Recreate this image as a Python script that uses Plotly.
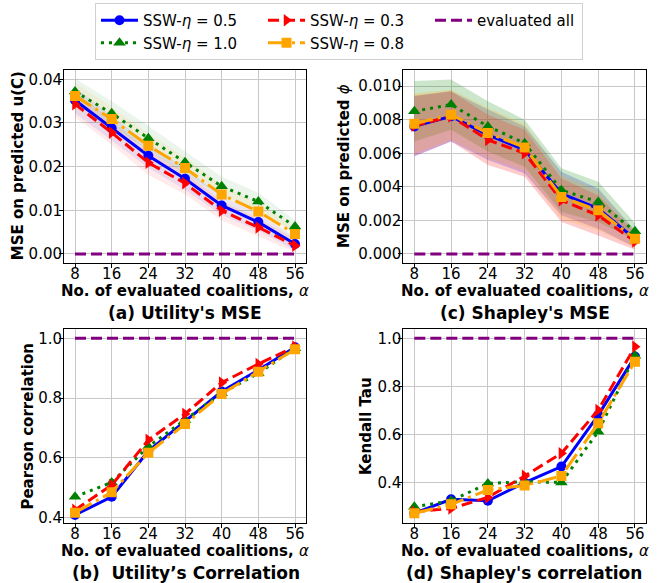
import plotly.graph_objects as go

# ---------------- data ----------------
alphas = [8, 16, 24, 32, 40, 48, 56]

# (a) MSE on predicted u(C)
mse_u_05 = [0.0352, 0.0288, 0.0225, 0.0172, 0.0111, 0.0073, 0.0023]
mse_u_10 = [0.0372, 0.0322, 0.0265, 0.0210, 0.0155, 0.0120, 0.0063]
mse_u_03 = [0.0343, 0.0278, 0.0209, 0.0162, 0.0099, 0.0061, 0.0019]
mse_u_08 = [0.0362, 0.0309, 0.0248, 0.0197, 0.0136, 0.0097, 0.0046]
std_u = [0.0030, 0.0028, 0.0028, 0.0025, 0.0022, 0.0020, 0.0015]

# (c) MSE on predicted phi
mse_phi_05 = [0.0076, 0.0082, 0.0071, 0.0062, 0.0036, 0.0027, 0.0009]
mse_phi_10 = [0.0085, 0.0089, 0.0076, 0.0066, 0.0038, 0.0031, 0.00135]
mse_phi_03 = [0.00764, 0.0082, 0.0068, 0.0060, 0.0032, 0.0023, 0.00075]
mse_phi_08 = [0.00776, 0.0083, 0.0072, 0.00635, 0.0034, 0.0026, 0.0009]
std_phi = [0.0018, 0.0015, 0.0015, 0.0014, 0.0013, 0.0012, 0.0005]

# (b) Pearson correlation
pear_05 = [0.409, 0.470, 0.623, 0.721, 0.822, 0.894, 0.970]
pear_10 = [0.470, 0.518, 0.638, 0.727, 0.816, 0.883, 0.967]
pear_03 = [0.426, 0.509, 0.660, 0.747, 0.852, 0.914, 0.972]
pear_08 = [0.417, 0.485, 0.617, 0.713, 0.814, 0.888, 0.963]

# (d) Kendall Tau
kend_05 = [0.273, 0.331, 0.325, 0.400, 0.467, 0.681, 0.924]
kend_10 = [0.300, 0.325, 0.397, 0.404, 0.401, 0.612, 0.928]
kend_03 = [0.279, 0.293, 0.339, 0.428, 0.522, 0.702, 0.965]
kend_08 = [0.273, 0.310, 0.370, 0.388, 0.428, 0.647, 0.903]

eval_all_mse = [0.0, 0.0]
eval_all_corr = [1.0, 1.0]
eval_all_x = [8, 56]

# ---------------- style ----------------
FONT = "DejaVu Sans"
W, H = 660, 583
ML, MR = 64, 14
GW = W - ML - MR


def fx(px):
    return (px - ML) / GW


def fy(py):
    return 1 - py / H


styles = {
    "0.5": dict(color="blue", rgb="0,0,255", symbol="circle", dash="solid", rank=1, size=10),
    "1.0": dict(color="green", rgb="0,128,0", symbol="triangle-up", dash="3px,5px", rank=4, size=11),
    "0.3": dict(color="red", rgb="255,0,0", symbol="triangle-right", dash="11px,5px", rank=2, size=11),
    "0.8": dict(color="orange", rgb="255,165,0", symbol="square", dash="19px,5px,3px,5px", rank=5, size=10),
}

panels = [
    ("", {"0.5": mse_u_05, "1.0": mse_u_10, "0.3": mse_u_03, "0.8": mse_u_08}, std_u, 0.08, eval_all_mse),
    ("2", {"0.5": mse_phi_05, "1.0": mse_phi_10, "0.3": mse_phi_03, "0.8": mse_phi_08}, std_phi, 0.20, eval_all_mse),
    ("3", {"0.5": pear_05, "1.0": pear_10, "0.3": pear_03, "0.8": pear_08}, None, 0, eval_all_corr),
    ("4", {"0.5": kend_05, "1.0": kend_10, "0.3": kend_03, "0.8": kend_08}, None, 0, eval_all_corr),
]

fig = go.Figure()

for i, (sfx, series, std, alpha, ev) in enumerate(panels):
    xa, ya = "x" + sfx, "y" + sfx
    if std is not None:
        for key, vals in series.items():
            st = styles[key]
            up = [v + s for v, s in zip(vals, std)]
            lo = [v - s for v, s in zip(vals, std)]
            fig.add_trace(go.Scatter(
                x=alphas + alphas[::-1], y=up + lo[::-1], fill="toself",
                fillcolor=f"rgba({st['rgb']},{alpha})", line=dict(width=0),
                mode="lines", showlegend=False, hoverinfo="skip", xaxis=xa, yaxis=ya))
    for key, vals in series.items():
        st = styles[key]
        fig.add_trace(go.Scatter(
            x=alphas, y=vals, mode="lines+markers",
            name=f"SSW-<i>η</i> = {key}",
            line=dict(color=st["color"], width=3, dash=st["dash"]),
            marker=dict(symbol=st["symbol"], size=st["size"], color=st["color"], line=dict(width=0)),
            showlegend=(i == 0), legendrank=st["rank"], xaxis=xa, yaxis=ya))
    fig.add_trace(go.Scatter(
        x=eval_all_x, y=ev, mode="lines", name="evaluated all",
        line=dict(color="purple", width=3, dash="11px,5px"),
        showlegend=(i == 0), legendrank=3, legendwidth=100, xaxis=xa, yaxis=ya))

axis_common = dict(
    showline=True, mirror=True, linecolor="black", linewidth=1,
    showgrid=True, gridcolor="#c8c8c8", gridwidth=1, zeroline=False,
    ticks="outside", ticklen=4, tickcolor="black", tickwidth=1,
    tickfont=dict(family=FONT, size=15, color="black"), automargin=False,
)

xdom_left = [fx(64), fx(306)]
xdom_right = [fx(403.3), fx(646)]
ydom_top = [fy(262.7), fy(69.5)]
ydom_bot = [fy(523.3), fy(329.3)]

xticks = dict(tickmode="array", tickvals=alphas, ticktext=[str(a) for a in alphas],
              range=[5.6, 58.4], ticklabelstandoff=-7)
ystand = dict(ticklabelstandoff=-6)

fig.update_layout(
    xaxis=dict(domain=xdom_left, anchor="y", **xticks, **axis_common),
    yaxis=dict(domain=ydom_top, anchor="x", range=[-0.002, 0.04224],
               tickvals=[0, 0.01, 0.02, 0.03, 0.04], tickformat=".2f", **ystand, **axis_common),
    xaxis2=dict(domain=xdom_right, anchor="y2", **xticks, **axis_common),
    yaxis2=dict(domain=ydom_top, anchor="x2", range=[-0.00052, 0.01099],
                tickvals=[0, 0.002, 0.004, 0.006, 0.008, 0.010], tickformat=".3f", **ystand, **axis_common),
    xaxis3=dict(domain=xdom_left, anchor="y3", **xticks, **axis_common),
    yaxis3=dict(domain=ydom_bot, anchor="x3", range=[0.3813, 1.0301],
                tickvals=[0.4, 0.6, 0.8, 1.0], tickformat=".1f", **ystand, **axis_common),
    xaxis4=dict(domain=xdom_right, anchor="y4", **xticks, **axis_common),
    yaxis4=dict(domain=ydom_bot, anchor="x4", range=[0.2313, 1.0374],
                tickvals=[0.4, 0.6, 0.8, 1.0], tickformat=".1f", **ystand, **axis_common),
)

annotations = []
xtitle = "<b>No. of evaluated coalitions, </b><i>α</i>"
for cx, cy in [(185, 290.5), (524.7, 290.5), (185, 551), (524.7, 551)]:
    annotations.append(dict(text=xtitle, x=fx(cx), y=fy(cy), xref="paper", yref="paper",
                            xanchor="center", yanchor="middle", showarrow=False,
                            font=dict(family=FONT, size=15, color="black")))

ytitles = [
    ("<b>MSE on predicted u(C)</b>", 18.3, 166),
    ("<b>MSE on predicted </b><i>ϕ</i>", 344, 166),
    ("<b>Pearson correlation</b>", 28.3, 426.3),
    ("<b>Kendall Tau</b>", 366.7, 426.3),
]
for t, cx, cy in ytitles:
    annotations.append(dict(text=t, x=fx(cx), y=fy(cy), xref="paper", yref="paper",
                            xanchor="center", yanchor="middle", showarrow=False, textangle=-90,
                            font=dict(family=FONT, size=15, color="black")))

captions = [
    ("<b>(a) Utility's MSE</b>", 185, 313.3),
    ("<b>(c) Shapley's MSE</b>", 524.5, 313.3),
    ("<b>(b)  Utility’s Correlation</b>", 186, 572.7),
    ("<b>(d) Shapley's correlation</b>", 524, 572.7),
]
for t, cx, cy in captions:
    annotations.append(dict(text=t, x=fx(cx), y=fy(cy), xref="paper", yref="paper",
                            xanchor="center", yanchor="middle", showarrow=False,
                            font=dict(family=FONT, size=17, color="black")))

fig.update_layout(
    width=W, height=H,
    margin=dict(l=ML, r=MR, t=0, b=0, pad=0),
    paper_bgcolor="white", plot_bgcolor="white",
    font=dict(family=FONT, size=15, color="black"),
    annotations=annotations,
    legend=dict(
        orientation="h", x=fx(95), y=fy(3), xanchor="left", yanchor="top",
        bgcolor="white", bordercolor="#d0d0d0", borderwidth=1,
        font=dict(family=FONT, size=15, color="black"),
        itemwidth=37, entrywidth=115, entrywidthmode="pixels",
        traceorder="normal",
    ),
    showlegend=True,
)

fig.write_html(
    "out.html",
    config={"displayModeBar": False},
    post_script="document.body.style.margin='0';document.body.style.padding='0';"
                "document.body.style.overflow='hidden';",
)
